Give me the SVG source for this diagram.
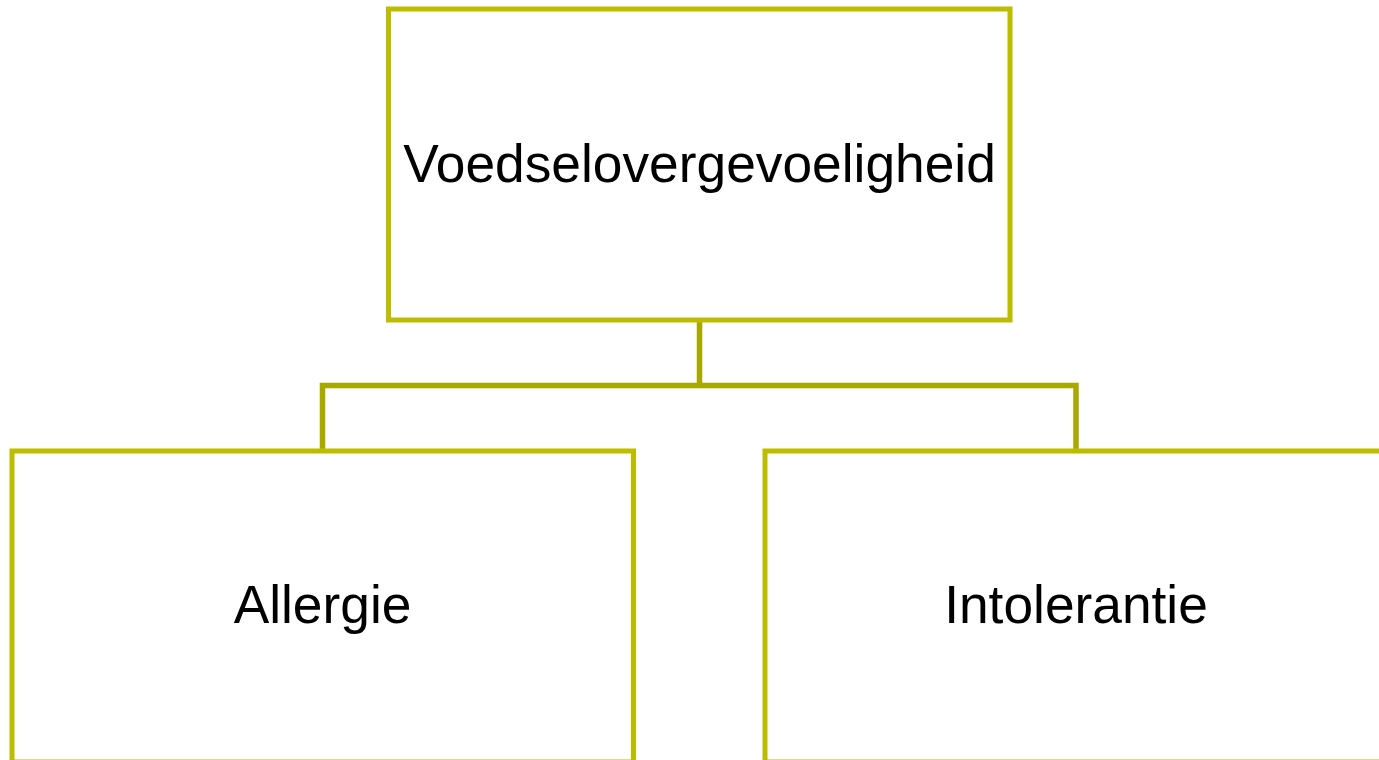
<svg xmlns="http://www.w3.org/2000/svg" width="1379" height="760" viewBox="0 0 1379 760">
<style>
.box{fill:#ffffff;stroke:#BDBD00;stroke-width:5;stroke-linejoin:miter}
.lbl{font-family:"Liberation Sans",Arial,sans-serif;font-size:53.3px;fill:#000000;text-anchor:middle}
.conn{fill:none;stroke:#A8A800;stroke-width:5.5}
</style>
<rect width="1379" height="760" fill="#ffffff"/>
<g id="connectors">
<path class="conn" d="M699.5,320 V385.5 M322.5,451 V385.5 H1076 V451"/>
</g>
<g id="node-voedselovergevoeligheid">
<rect class="box" x="388.5" y="9" width="621.5" height="311"/>
<text class="lbl" x="699.5" y="182">Voedselovergevoeligheid</text>
</g>
<g id="node-allergie">
<rect class="box" x="12" y="451" width="621.5" height="311"/>
<text class="lbl" x="322.5" y="623">Allergie</text>
</g>
<g id="node-intolerantie">
<rect class="box" x="765" y="451" width="621.5" height="311"/>
<text class="lbl" x="1076" y="623">Intolerantie</text>
</g>
</svg>
